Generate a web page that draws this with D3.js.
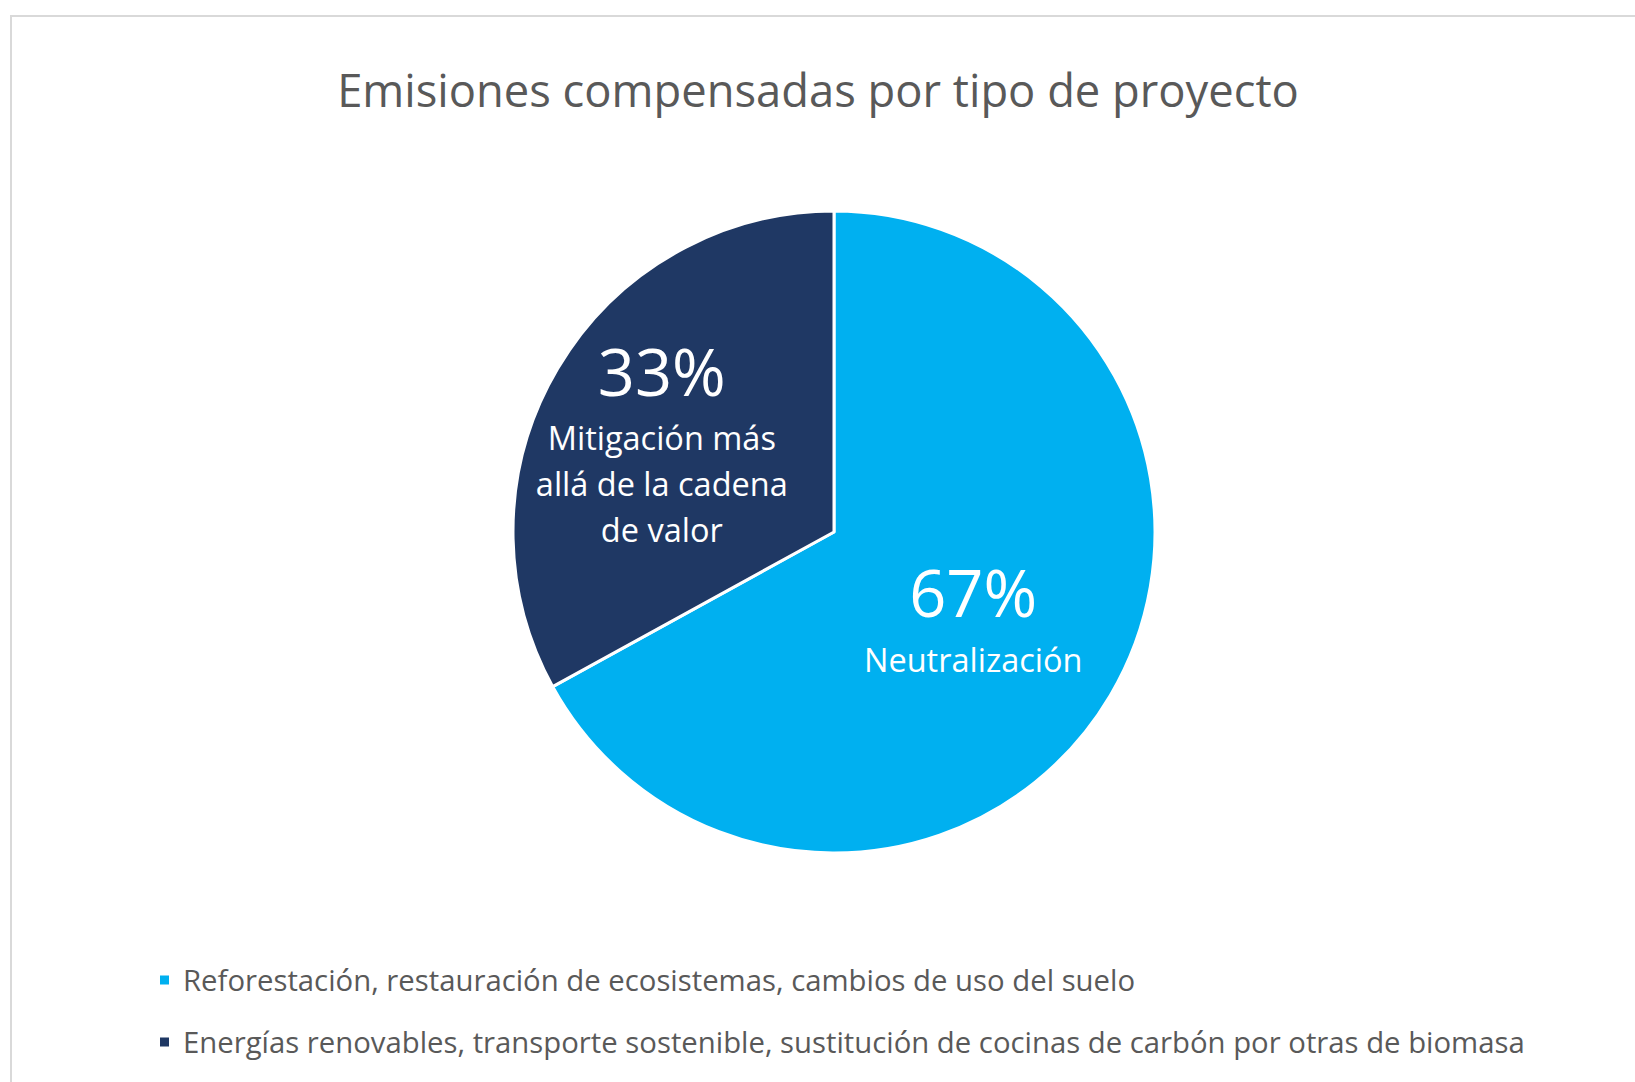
<!DOCTYPE html>
<html>
<head>
<meta charset="utf-8">
<script src="https://cdn.jsdelivr.net/npm/d3@7"></script>
<style>
  html, body { margin: 0; padding: 0; background: #ffffff; }
  svg { display: block; }
</style>
</head>
<body>
<svg id="chart" width="1635" height="1082"></svg>
<script>
// ---- data ----
const title = "Emisiones compensadas por tipo de proyecto";
const categories = ["Neutralización", "Mitigación más allá de la cadena de valor"];
const values = [67, 33];
const percentLabels = ["67%", "33%"];
const sliceLabelLines = [["Neutralización"], ["Mitigación más", "allá de la cadena", "de valor"]];
const legendLabels = [
  "Reforestación, restauración de ecosistemas, cambios de uso del suelo",
  "Energías renovables, transporte sostenible, sustitución de cocinas de carbón por otras de biomasa"
];
const colors = ["#00B0F0", "#1F3864"];

// ---- layout ----
const W = 1635, H = 1082;
const FONT = "'Open Sans', 'Noto Sans', sans-serif";
const svg = d3.select("#chart");

function fitSize(text, targetWidth, weight) {
  const t = svg.append("text").attr("font-family", FONT).attr("font-size", 100)
    .attr("font-weight", weight || 400).text(text);
  const w = t.node().getComputedTextLength();
  t.remove();
  return 100 * targetWidth / w;
}

// frame (cropped on right and bottom)
svg.append("rect").attr("x", 11).attr("y", 16).attr("width", W).attr("height", H)
  .attr("fill", "#fff").attr("stroke", "#d9d9d9").attr("stroke-width", 2);

// title
svg.append("text").attr("x", 818).attr("y", 107).attr("text-anchor", "middle")
  .attr("font-family", FONT).attr("font-size", fitSize(title, 962)).attr("fill", "#595959")
  .text(title);

// pie
const cx = 834, cy = 532, R = 321;
const pie = d3.pie().sort(null).value(d => d);
const arcs = pie(values);
const arc = d3.arc().innerRadius(0).outerRadius(R);
const labelArc = d3.arc().innerRadius(178).outerRadius(178);
const labelNudge = [[-14, 3], [-19, 9]];

const g = svg.append("g").attr("transform", `translate(${cx},${cy})`);
g.selectAll("path.slice").data(arcs).join("path").attr("class", "slice")
  .attr("d", arc).attr("fill", (d, i) => colors[i])
  .attr("stroke", "#ffffff").attr("stroke-width", 3).attr("stroke-linejoin", "round");

const bigSize = fitSize("33%", 128);
const smallSize = fitSize("allá de la cadena", 252);
const lineGap = 46, bigGap = 67;

arcs.forEach((d, i) => {
  const [lx, ly] = labelArc.centroid(d);
  const lines = sliceLabelLines[i];
  const offsets = [0];
  for (let k = 0; k < lines.length; k++) offsets.push(bigGap + k * lineGap);
  const mid = (offsets[0] + offsets[offsets.length - 1]) / 2;
  const tg = g.append("g")
    .attr("transform", `translate(${lx + labelNudge[i][0]},${ly - mid + labelNudge[i][1]})`);
  tg.append("text").attr("x", 0).attr("y", 0).attr("text-anchor", "middle")
    .attr("dominant-baseline", "central")
    .attr("font-family", FONT).attr("font-size", bigSize).attr("fill", "#ffffff")
    .text(percentLabels[i]);
  lines.forEach((ln, k) => {
    tg.append("text").attr("x", 0).attr("y", offsets[k + 1]).attr("text-anchor", "middle")
      .attr("dominant-baseline", "central")
      .attr("font-family", FONT).attr("font-size", smallSize).attr("fill", "#ffffff")
      .text(ln);
  });
});

// legend
const legSize = fitSize(legendLabels[1], 1342);
const leg = svg.append("g");
legendLabels.forEach((lab, i) => {
  const y = 980 + i * 62;
  leg.append("rect").attr("x", 160).attr("y", y - 4.5).attr("width", 9).attr("height", 9)
    .attr("fill", colors[i]);
  leg.append("text").attr("x", 183).attr("y", y).attr("dominant-baseline", "central")
    .attr("font-family", FONT).attr("font-size", legSize).attr("fill", "#595959")
    .text(lab);
});
</script>
</body>
</html>
